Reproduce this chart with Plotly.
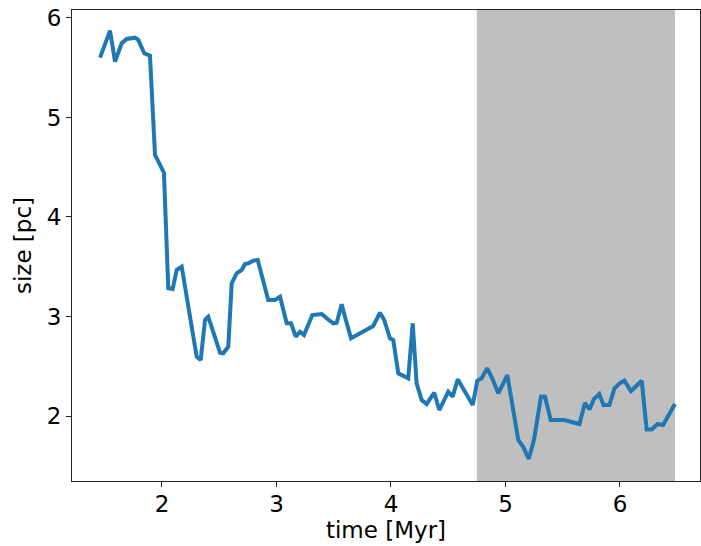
import plotly.graph_objects as go

time_myr = [1.459, 1.546, 1.590, 1.648, 1.692, 1.764, 1.793, 1.845, 1.895, 1.939,
            1.983, 2.017, 2.055, 2.093, 2.128, 2.172, 2.303, 2.338, 2.376, 2.404,
            2.507, 2.535, 2.579, 2.609, 2.652, 2.696, 2.725, 2.754, 2.797, 2.836,
            2.928, 2.987, 3.031, 3.089, 3.127, 3.168, 3.205, 3.240, 3.313, 3.395,
            3.438, 3.496, 3.526, 3.569, 3.598, 3.651, 3.845, 3.904, 3.941, 3.991,
            4.020, 4.064, 4.151, 4.190, 4.224, 4.268, 4.312, 4.378, 4.422, 4.500,
            4.539, 4.583, 4.714, 4.754, 4.792, 4.841, 4.888, 4.937, 5.016, 5.112,
            5.155, 5.203, 5.249, 5.310, 5.345, 5.395, 5.511, 5.646, 5.694, 5.734,
            5.773, 5.819, 5.856, 5.908, 5.952, 5.997, 6.039, 6.096, 6.190, 6.233,
            6.277, 6.328, 6.376, 6.480]
size_pc = [5.601, 5.872, 5.561, 5.746, 5.789, 5.802, 5.779, 5.645, 5.621, 4.623,
           4.523, 4.442, 3.286, 3.276, 3.467, 3.501, 2.596, 2.563, 2.965, 2.998,
           2.636, 2.630, 2.697, 3.334, 3.434, 3.467, 3.528, 3.535, 3.561, 3.568,
           3.166, 3.166, 3.199, 2.932, 2.932, 2.797, 2.847, 2.814, 3.015, 3.025,
           2.982, 2.932, 2.938, 3.123, 2.998, 2.781, 2.905, 3.038, 2.965, 2.781,
           2.764, 2.429, 2.379, 2.932, 2.329, 2.161, 2.121, 2.234, 2.060, 2.244,
           2.194, 2.369, 2.111, 2.355, 2.379, 2.479, 2.369, 2.228, 2.412, 1.759,
           1.691, 1.568, 1.759, 2.196, 2.194, 1.960, 1.960, 1.920, 2.131, 2.067,
           2.171, 2.221, 2.111, 2.111, 2.278, 2.329, 2.355, 2.251, 2.355, 1.864,
           1.864, 1.920, 1.910, 2.121]

shade_start = 4.75
shade_end = 6.48

x_ticks = [2, 3, 4, 5, 6]
y_ticks = [2, 3, 4, 5, 6]

FONT = dict(family="DejaVu Sans", size=23, color="black")

fig = go.Figure()
fig.add_vrect(x0=shade_start, x1=shade_end, fillcolor="rgb(191,191,191)",
              opacity=1, line_width=0, layer="below")
fig.add_trace(go.Scatter(x=time_myr, y=size_pc, mode="lines",
                         line=dict(color="#1f77b4", width=4), showlegend=False))

axis_common = dict(
    showgrid=False, zeroline=False, showline=True, linecolor="#222",
    linewidth=1, mirror=True, ticks="outside", ticklen=5, tickwidth=1,
    tickcolor="#222", tickfont=FONT,
)
fig.update_xaxes(range=[1.214, 6.699], tickvals=x_ticks, ticklabelstandoff=-3,
                 title=dict(text="time [Myr]", font=FONT, standoff=4),
                 **axis_common)
fig.update_yaxes(range=[1.347, 6.080], tickvals=y_ticks,
                 title=dict(text="size [pc]", font=FONT, standoff=8),
                 **axis_common)
fig.update_layout(width=701, height=546, margin=dict(l=72, r=1, t=10, b=65),
                  plot_bgcolor="white", paper_bgcolor="white")
fig.write_html("out.html")
